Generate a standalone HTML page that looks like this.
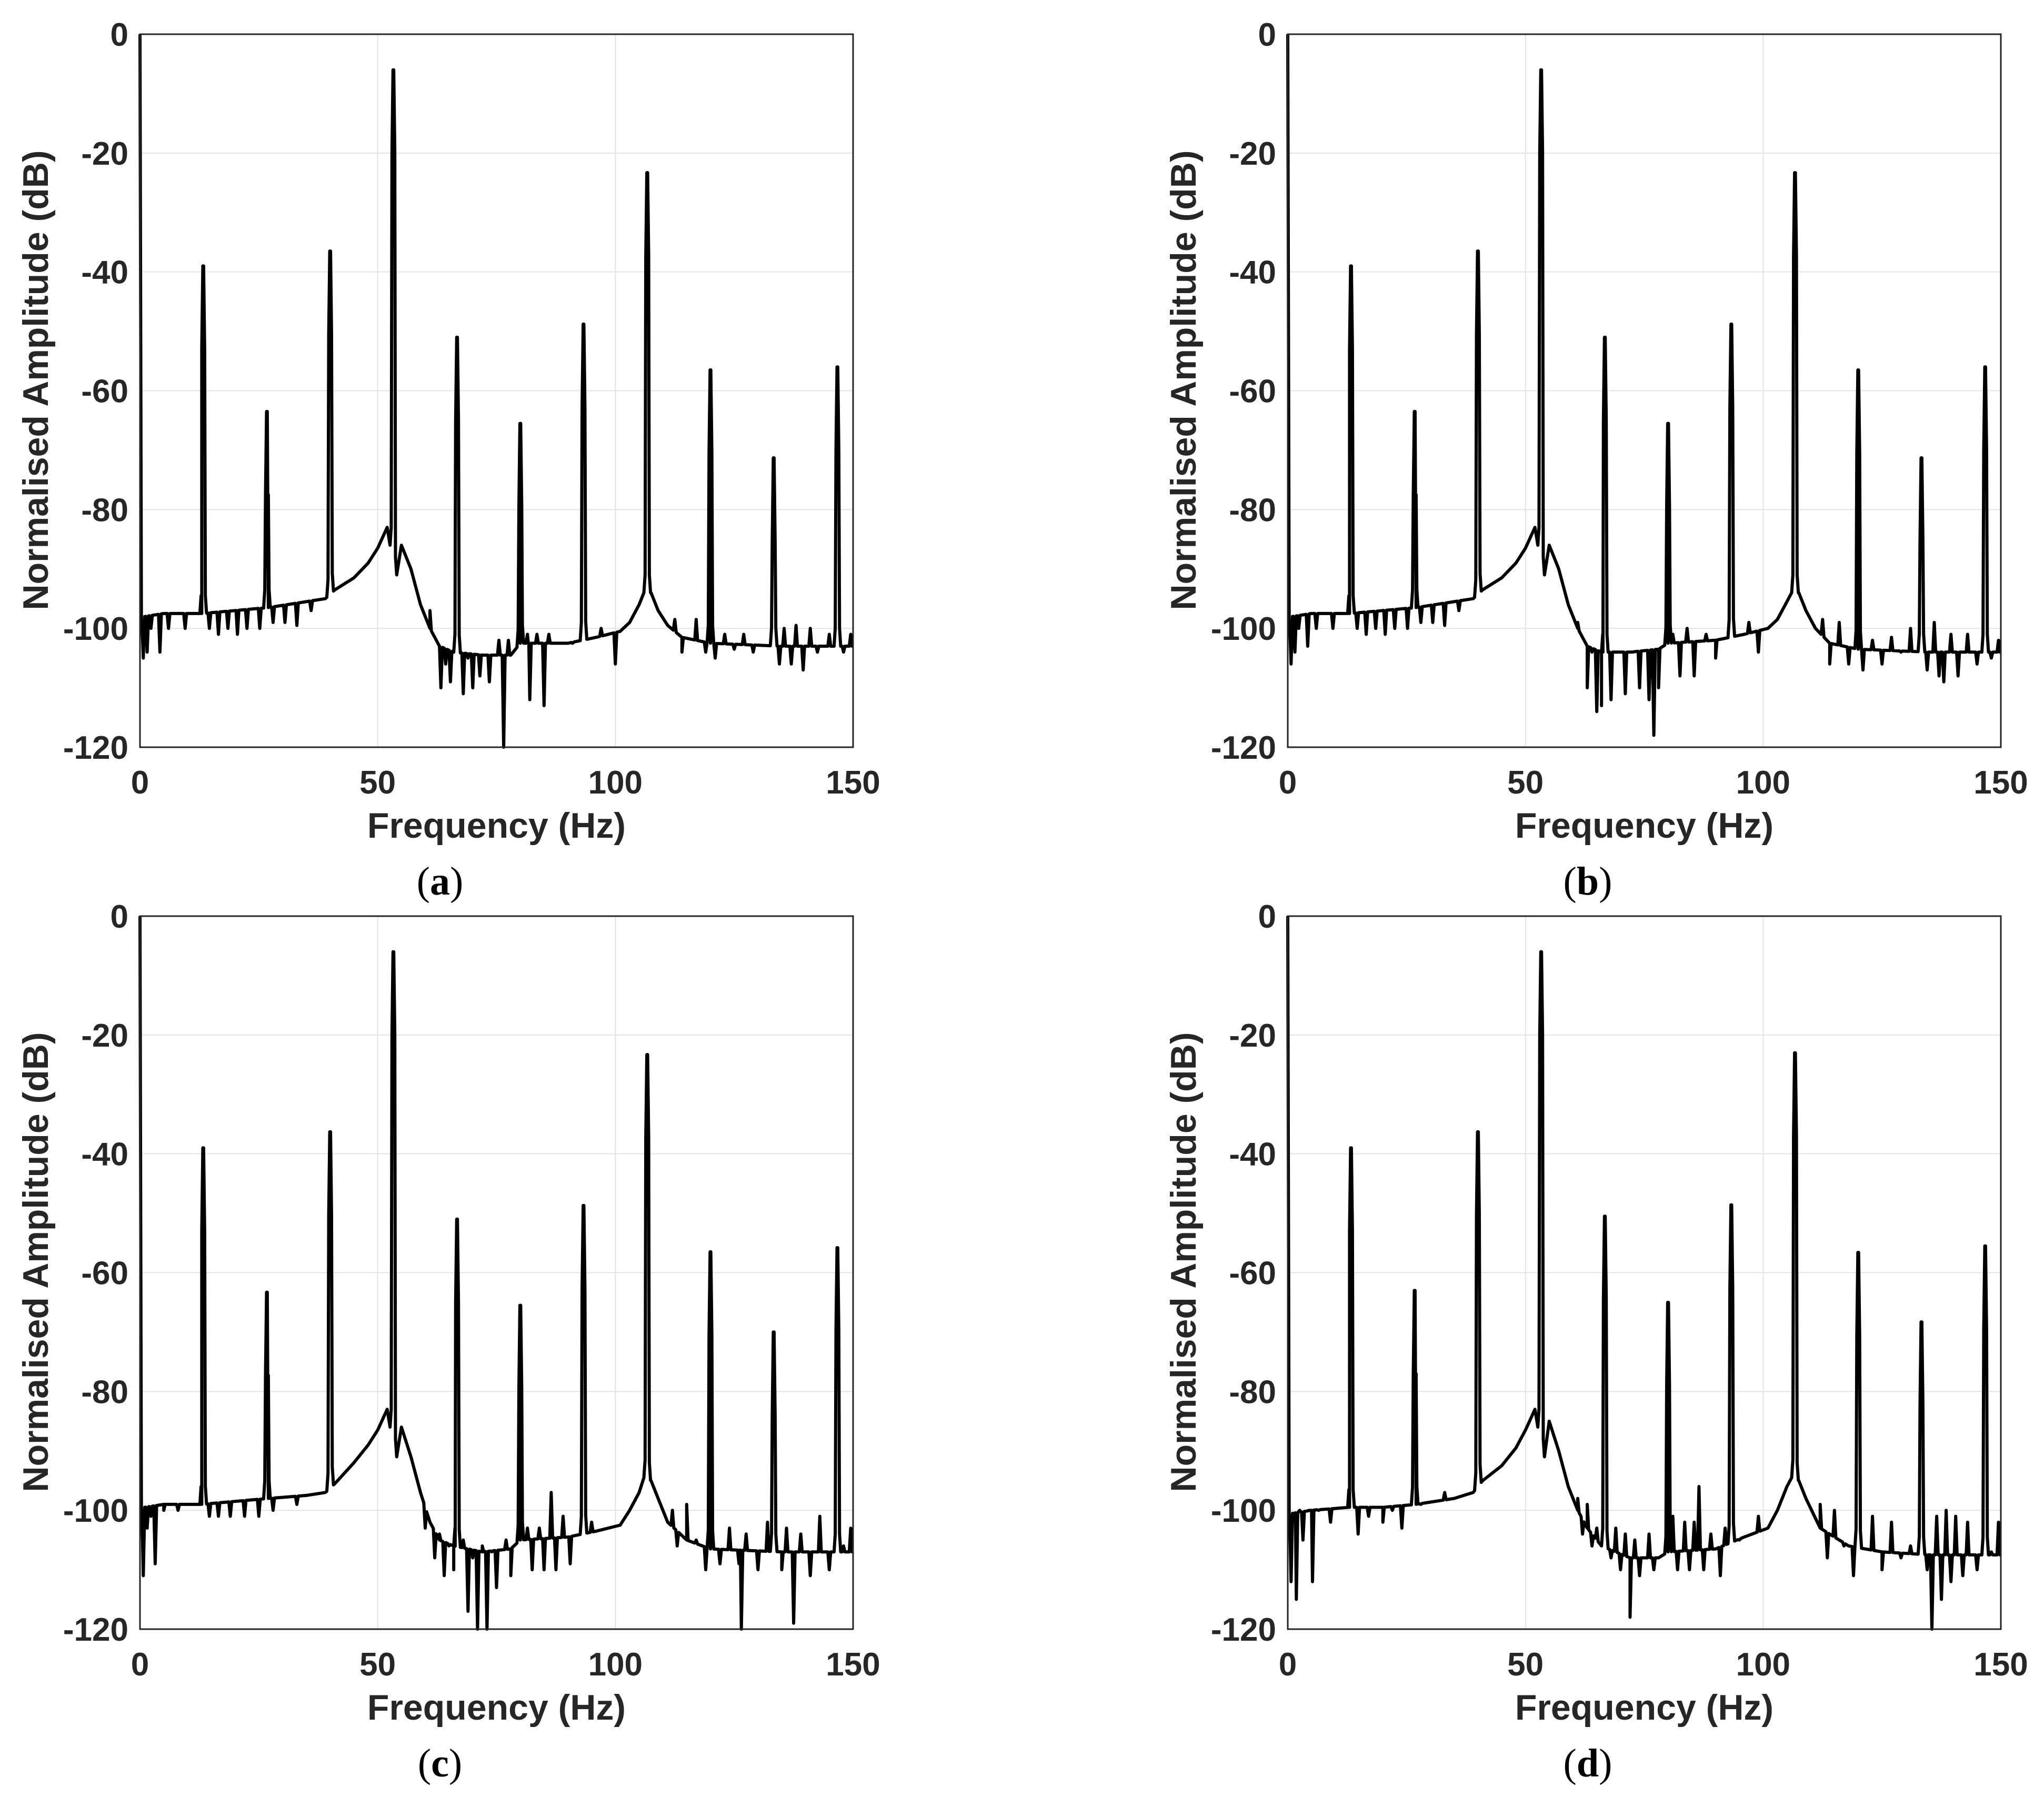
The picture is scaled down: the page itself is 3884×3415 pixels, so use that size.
<!DOCTYPE html>
<html><head><meta charset="utf-8">
<style>
html,body{margin:0;padding:0;background:#fff;}
svg{display:block;}
text{font-family:"Liberation Sans",Arial,sans-serif;font-weight:bold;fill:#262626;}
.cap{font-family:"Liberation Serif","Times New Roman",serif;font-weight:normal;fill:#000;}
</style></head>
<body>
<svg id="fig" width="3884" height="3415" viewBox="0 0 3884 3415" xmlns="http://www.w3.org/2000/svg"></svg>
<script>
// ---- data ----
const xTicks = [0, 50, 100, 150];
const yTicks = [0, -20, -40, -60, -80, -100, -120];
const panelLabels = ["a", "b", "c", "d"];
const peakFreqs = [13.3, 26.7, 40, 53.3, 66.7, 80, 93.3, 106.7, 120, 133.3, 146.7];
const peaksA = [-39, -63.5, -36.5, -6, -51, -65.5, -48.8, -23.3, -56.5, -71.3, -56];
const peaksB = [-39, -63.5, -36.5, -6, -51, -65.5, -48.8, -23.3, -56.5, -71.3, -56];
const peaksC = [-39, -63.3, -36.3, -6, -51, -65.5, -48.7, -23.3, -56.5, -70, -55.8];
const peaksD = [-39, -63, -36.3, -6, -50.5, -65, -48.6, -23, -56.6, -68.3, -55.5];
const floorA = [[0.3,-99],[1,-98],[5,-97.5],[13,-97.5],[20,-97],[27,-96.5],[35,-95.5],[39,-95],[41,-93.5],[45,-91.5],[48,-89],[50,-86.5],[52,-83],[52.6,-86],[54,-91],[55,-86],[57,-90],[59,-96],[61,-100],[63,-103],[66,-104],[72,-104.5],[78,-104.5],[80,-102.5],[90,-102.5],[96,-101.5],[101,-100.5],[103,-99],[105,-96],[106,-94],[107.5,-94],[109,-97],[111,-99.5],[114,-101.5],[120,-102.5],[135,-103],[150,-103]];
const floorB = [[0.3,-99],[1,-98],[5,-97.5],[13,-97.5],[20,-97],[27,-96.5],[35,-95.5],[39,-95],[41,-93.5],[45,-91.5],[48,-89],[50,-86.5],[52,-83],[52.6,-86],[54,-91],[55,-86],[57,-90],[59,-96],[61,-100],[63,-103],[66,-104],[72,-104],[78,-103.5],[80,-102.5],[90,-102],[96,-101],[101,-100],[103,-98.5],[105,-95.5],[106,-94],[107.5,-94],[109,-97],[111,-100],[114,-102.5],[120,-103.5],[135,-104],[150,-104]];
const floorC = [[0.3,-100],[1,-99.5],[5,-99],[13,-99],[20,-98.5],[27,-98],[35,-97.5],[39,-97],[41,-95.5],[45,-92],[48,-89],[50,-86.5],[52,-83],[52.6,-86],[54,-91],[55,-86],[57,-91],[59,-97],[61,-102],[63,-105],[66,-106],[72,-107],[78,-106.5],[80,-105],[90,-104.5],[96,-103.5],[101,-102.5],[103,-100],[105,-97],[106,-94.5],[107.5,-95],[109,-98],[111,-102],[115,-105],[120,-106.5],[135,-107],[150,-107]];
const floorD = [[0.3,-101],[1,-100.5],[5,-100],[13,-99.5],[20,-99.5],[27,-99],[35,-98],[39,-97],[41,-95],[45,-92.5],[48,-89.5],[50,-86.5],[52,-83],[52.6,-86],[54,-91],[55,-85],[57,-90],[59,-96],[61,-100],[63,-103],[66,-106],[72,-108],[78,-108],[80,-107],[90,-106.5],[96,-104.5],[101,-103],[103,-100],[105,-96],[106,-94.5],[107.5,-95],[109,-98],[112,-103],[118,-106],[125,-107],[135,-107.5],[150,-107.5]];
const spursA = [[0.7,-105],[1.5,-104],[2.3,-100],[4.2,-104],[6,-100],[9.5,-100],[14.6,-100],[16.5,-101],[18.5,-100],[20.5,-101],[22.5,-100],[25.2,-100],[28,-99],[30.5,-99],[33,-99.5],[36,-97],[61,-97],[63.3,-110],[64.3,-106],[65.3,-109],[68,-111],[69,-105],[70,-110],[71.5,-108],[73.5,-109],[75.5,-102],[76.5,-121],[77.5,-102],[81.5,-101],[82,-112],[83.5,-101],[85,-113],[86,-101],[91,-102.5],[97,-100],[100,-106],[112.5,-98.5],[114,-104],[117,-98.5],[119,-104],[121,-105],[123,-101],[125,-103.5],[127,-101],[129,-104],[134.5,-106],[135.5,-100],[137,-106],[138,-99.5],[139.5,-107],[141,-100],[142.5,-104],[145,-101],[148,-104],[149.5,-101]];
const spursB = [[0.7,-106],[1.5,-104],[2.3,-100],[4.2,-103],[6,-100],[9.5,-100],[14.6,-100],[16.5,-101],[18.5,-100],[20.5,-101],[22.5,-100],[25.2,-100],[28,-99],[30.5,-99],[33,-99.5],[36,-97],[61,-99],[63,-110],[64,-104],[65,-114],[66,-113],[68,-112],[69.5,-104],[71,-111],[72.5,-104],[74,-110],[76,-112],[77,-118],[78,-110],[81,-101],[82.5,-108],[84,-100],[85.5,-108],[88,-101],[90,-105],[97,-99],[99,-104],[112.5,-98.5],[114,-106],[116,-99],[118,-106],[121,-107],[123,-102],[125,-106],[127,-101.5],[129,-104],[131,-100],[134.5,-107],[136,-99],[137,-108],[138,-109],[139.5,-101],[141,-108],[143,-101],[145,-106],[148,-105],[149.5,-102]];
const spursC = [[0.7,-111],[1.5,-103],[2.3,-101],[3.2,-109],[5,-100],[8,-100],[14.6,-101],[16.5,-101],[19,-101],[22,-101],[25,-101],[28,-100],[33,-99],[60,-103],[62,-108],[63,-104],[64,-111],[65,-106],[66,-110],[68,-105],[69,-117],[70,-108],[71,-120],[72,-106],[73,-121],[74,-107],[75,-113],[77,-105],[78,-111],[81.5,-103],[82.5,-110],[84,-103],[85,-110],[86.5,-97],[87.5,-110],[89,-101],[90.5,-109],[95,-102],[112,-100],[113,-106],[115,-99],[117,-105],[119,-110],[122,-109],[124,-103],[126,-109],[126.5,-121],[127.5,-104],[130,-110],[132,-102],[135,-110],[136,-103],[137.5,-119],[139,-104],[141,-111],[143,-101],[145,-110],[148,-106],[149.5,-103]];
const spursD = [[0.7,-112],[1.3,-101],[1.8,-115],[2.5,-100],[3.2,-105],[4.5,-100],[5.2,-112],[6.5,-100],[9,-102],[14.8,-104],[17,-101],[20,-102],[22,-100],[24,-103],[28,-99],[33,-97],[61,-98],[62,-104],[63,-99],[64,-106],[65,-103],[68,-108],[69,-103],[70,-110],[71,-104],[72,-118],[73,-105],[74,-111],[76,-104],[77,-110],[81,-101],[82,-110],[83.5,-102],[84.5,-110],[85.5,-102],[86.5,-96],[87.5,-110],[89,-104],[91,-111],[92,-103],[95,-105],[99,-101],[112,-99],[113.5,-108],[115,-100],[117,-106],[119,-111],[123,-101],[125,-110],[127,-102],[129,-108],[131,-106],[134.5,-110],[135.5,-120],[136.5,-101],[137.5,-115],[138.5,-100],[139.5,-112],[140.5,-101],[142,-111],[143,-102],[145,-110],[148,-107],[149.5,-102]];

const panels = [
  {label:"a", x0:266, y0:65,  peaks:peaksA, floor:floorA, spurs:spursA, cx:836,  cy:1700},
  {label:"b", x0:2447,y0:65,  peaks:peaksB, floor:floorB, spurs:spursB, cx:3017, cy:1700},
  {label:"c", x0:266, y0:1741,peaks:peaksC, floor:floorC, spurs:spursC, cx:836,  cy:3376},
  {label:"d", x0:2447,y0:1741,peaks:peaksD, floor:floorD, spurs:spursD, cx:3017, cy:3376}
];
const W = 1355, H = 1355;
const NS = "http://www.w3.org/2000/svg";
const svg = document.getElementById("fig");
function mk(tag, attrs, parent){ const e=document.createElementNS(NS,tag); for(const k in attrs) e.setAttribute(k,attrs[k]); (parent||svg).appendChild(e); return e; }
function floorAt(fl, f){
  if (f <= fl[0][0]) return fl[0][1];
  for (let i=1;i<fl.length;i++){ if (f<=fl[i][0]){ const a=fl[i-1], b=fl[i]; return a[1]+(b[1]-a[1])*(f-a[0])/(b[0]-a[0]); } }
  return fl[fl.length-1][1];
}
panels.forEach(p => {
  const sx = f => p.x0 + f/150*W;
  const sy = v => p.y0 + (-v)/120*H;
  const g = mk("g", {});
  
  
  xTicks.forEach(t => { if(t>0 && t<150){ const l=mk("line",{x1:sx(t),x2:sx(t),y1:p.y0,y2:p.y0+H,stroke:"#e3e3e3","stroke-width":2},g);
      } });
  yTicks.forEach(t => { if(t<0 && t>-120){ const l=mk("line",{x1:p.x0,x2:p.x0+W,y1:sy(t),y2:sy(t),stroke:"#e3e3e3","stroke-width":2},g);
      } });
  const pts = [[0,0]];
  p.floor.forEach(k => pts.push([k[0], k[1]]));
  p.spurs.forEach(s => { pts.push([s[0]-0.3, floorAt(p.floor,s[0]-0.3)]); pts.push([s[0], s[1]]); pts.push([s[0]+0.3, floorAt(p.floor,s[0]+0.3)]); });
  peakFreqs.forEach((f,i) => {
    const v = p.peaks[i];
    const fl1 = floorAt(p.floor,f-0.7), fl2 = floorAt(p.floor,f+0.7);
    pts.push([f-0.7, fl1]);
    pts.push([f-0.45, fl1+3]);
    pts.push([f-0.3, v-14]); pts.push([f-0.08, v]); pts.push([f+0.08, v]); pts.push([f+0.3, v-14]);
    pts.push([f+0.45, fl2+3]);
    pts.push([f+0.7, fl2]);
  });
  pts.sort((a,b)=>a[0]-b[0]);
  const d = pts.map((q,i)=>(i?"L":"M")+sx(q[0]).toFixed(1)+" "+sy(Math.max(-120,q[1])).toFixed(1)).join("");
  const path = mk("path",{d:d,fill:"none",stroke:"#000","stroke-width":6,"stroke-linejoin":"round"},g);
  
  
  const box = mk("rect",{x:p.x0,y:p.y0,width:W,height:H,fill:"none",stroke:"#262626","stroke-width":3},g);
  
  
  xTicks.forEach(t => { const tx=mk("text",{x:sx(t),y:p.y0+H+88,"font-size":62,"text-anchor":"middle"},g); tx.textContent=t;
      });
  yTicks.forEach(t => { const tx=mk("text",{x:p.x0-22,y:sy(t)+22,"font-size":62,"text-anchor":"end"},g); tx.textContent=t;
      });
  const xt = mk("text",{x:p.x0+W/2,y:p.y0+H+172,"font-size":68,"text-anchor":"middle"},g);
  xt.textContent = "Frequency (Hz)";
  
  
  const yx = p.x0-175, yy = p.y0+H/2-20;
  const yt = mk("text",{x:yx,y:yy,"font-size":68,"text-anchor":"middle",transform:`rotate(-90 ${yx} ${yy})`},g);
  yt.textContent = "Normalised Amplitude (dB)";
  
  
  const cap = mk("text",{x:p.cx,y:p.cy,"font-size":76,"text-anchor":"middle","class":"cap"},g);
  cap.innerHTML = '(<tspan font-weight="bold">'+p.label+'</tspan>)';
  
  
});
</script>
</body></html>
